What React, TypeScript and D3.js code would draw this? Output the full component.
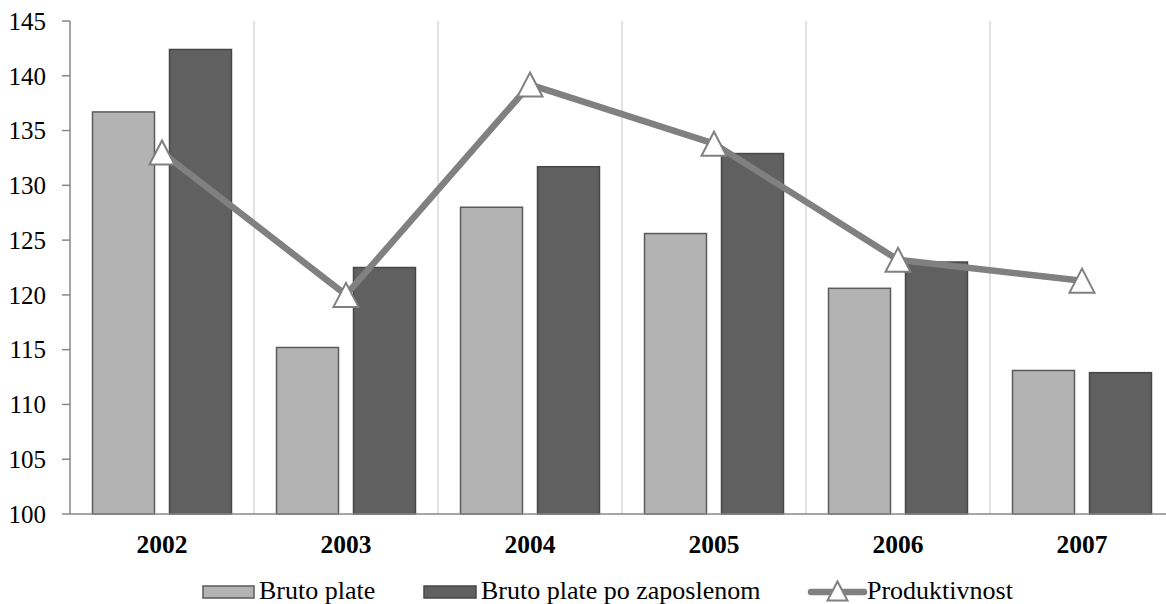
import React from "react";
import * as d3 from "d3";

const years = ["2002", "2003", "2004", "2005", "2006", "2007"];
const brutoPlate = [136.7, 115.2, 128.0, 125.6, 120.6, 113.1];
const brutoPlatePoZaposlenom = [142.4, 122.5, 131.7, 132.9, 123.0, 112.9];
const produktivnost = [133.0, 120.0, 139.2, 133.8, 123.2, 121.3];
const yTicks = [100, 105, 110, 115, 120, 125, 130, 135, 140, 145];
const seriesNames = ["Bruto plate", "Bruto plate po zaposlenom", "Produktivnost"];

const W = 1166;
const H = 604;
const left = 70;
const top = 21;
const bottom = 514;
const step = 184;
const FONT = "Liberation Serif";

const LIGHT = "#b3b3b3";
const LIGHT_STROKE = "#5a5a5a";
const DARK = "#606060";
const DARK_STROKE = "#474747";
const LINE = "#808080";

function triangle(cx: number, cy: number, w = 25, h = 24) {
  return `M${cx},${cy - h / 2}L${cx + w / 2},${cy + h / 2}L${cx - w / 2},${cy + h / 2}Z`;
}

export default function App() {
  const x0 = d3.scaleBand<string>().domain(years).range([left, left + step * years.length]).padding(0);
  const x1 = d3
    .scaleBand<number>()
    .domain([0, 1])
    .range([0, x0.bandwidth()])
    .paddingInner(0.195)
    .paddingOuter(0.2925);
  const y = d3.scaleLinear().domain([100, 145]).range([bottom, top]);

  const line = d3
    .line<number>()
    .x((_, i) => (x0(years[i]) as number) + x0.bandwidth() / 2)
    .y((d) => y(d));

  const series = [brutoPlate, brutoPlatePoZaposlenom];
  const fills = [LIGHT, DARK];
  const strokes = [LIGHT_STROKE, DARK_STROKE];

  return (
    <svg width={W} height={H} style={{ position: "absolute", left: 0, top: 0, background: "#fff" }}>
      {years.slice(1).map((yr) => (
        <line
          key={"g" + yr}
          x1={x0(yr) as number}
          x2={x0(yr) as number}
          y1={top}
          y2={bottom}
          stroke="#d9d9d9"
          strokeWidth={1.5}
        />
      ))}
      {series.map((vals, si) =>
        vals.map((v, i) => {
          const bx = (x0(years[i]) as number) + (x1(si) as number);
          return (
            <rect
              key={`b${si}-${i}`}
              x={bx}
              y={y(v)}
              width={x1.bandwidth()}
              height={bottom - y(v)}
              fill={fills[si]}
              stroke={strokes[si]}
              strokeWidth={1.5}
            />
          );
        })
      )}
      <line x1={left} x2={W} y1={bottom} y2={bottom} stroke="#878787" strokeWidth={1.5} />
      <line x1={left} x2={left} y1={top} y2={bottom} stroke="#878787" strokeWidth={1.5} />
      {yTicks.map((t) => (
        <g key={"t" + t}>
          <line x1={left - 8} x2={left} y1={y(t)} y2={y(t)} stroke="#878787" strokeWidth={1.5} />
          <text x={46} y={y(t)} dy="0.35em" textAnchor="end" fontFamily={FONT} fontSize={25} fill="#000">
            {t}
          </text>
        </g>
      ))}
      {years.map((yr) => (
        <text
          key={"x" + yr}
          x={(x0(yr) as number) + x0.bandwidth() / 2}
          y={553}
          textAnchor="middle"
          fontFamily={FONT}
          fontSize={25.5}
          fontWeight="bold"
          fill="#000"
        >
          {yr}
        </text>
      ))}
      <path
        d={line(produktivnost) || ""}
        fill="none"
        stroke={LINE}
        strokeWidth={6.5}
        strokeLinejoin="round"
      />
      {produktivnost.map((v, i) => (
        <path
          key={"m" + i}
          d={triangle((x0(years[i]) as number) + x0.bandwidth() / 2, y(v))}
          fill="#fff"
          stroke={LINE}
          strokeWidth={2}
        />
      ))}
      <rect x={203} y={586} width={51} height={12} fill={LIGHT} stroke={LIGHT_STROKE} strokeWidth={1.5} />
      <text x={259} y={599} fontFamily={FONT} fontSize={26} fill="#000">
        {seriesNames[0]}
      </text>
      <rect x={424} y={586} width={52} height={12} fill={DARK} stroke={DARK_STROKE} strokeWidth={1.5} />
      <text x={481} y={599} fontFamily={FONT} fontSize={26} fill="#000">
        {seriesNames[1]}
      </text>
      <line x1={811} x2={864} y1={592} y2={592} stroke={LINE} strokeWidth={6.5} strokeLinecap="round" />
      <path d={triangle(837.5, 591, 20, 19)} fill="#fff" stroke={LINE} strokeWidth={2} />
      <text x={867} y={599} fontFamily={FONT} fontSize={26} fill="#000">
        {seriesNames[2]}
      </text>
    </svg>
  );
}
